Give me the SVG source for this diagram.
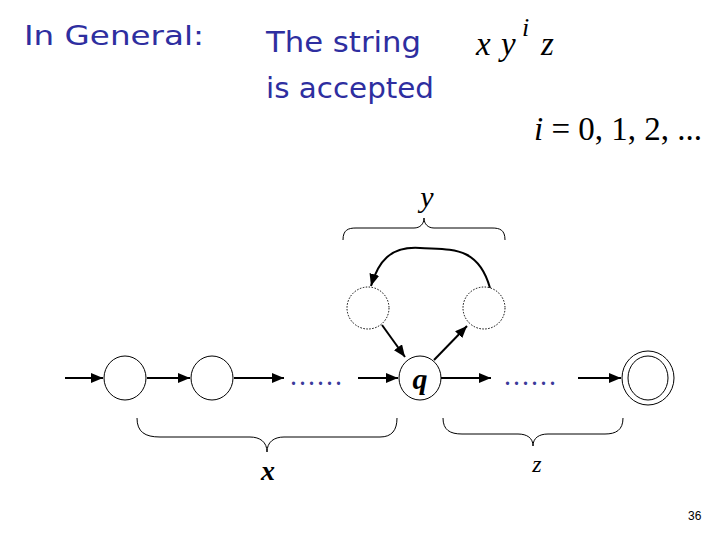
<svg xmlns="http://www.w3.org/2000/svg" width="720" height="540" viewBox="0 0 720 540">
<defs>
<marker id="ah" viewBox="0 0 12 10" refX="12" refY="5" markerWidth="12" markerHeight="10" markerUnits="userSpaceOnUse" orient="auto"><path d="M0,0 L12,5 L0,10 z" fill="#000"/></marker>
<style>
.st{fill:#fff;stroke:#000;stroke-width:1}
.dot{fill:#fff;stroke:#000;stroke-width:1;stroke-dasharray:1.5 1.5}
.ed{fill:none;stroke:#000;stroke-width:2;marker-end:url(#ah)}
.br{fill:none;stroke:#000;stroke-width:1}
.hd{font-family:"DejaVu Sans",sans-serif;fill:#2e2ea0}
.m{font-family:"Liberation Serif",serif;fill:#000}
.dots{font-family:"Liberation Serif",serif;fill:#3a3a9a;font-size:20px;font-weight:bold}
</style>
</defs>
<rect width="720" height="540" fill="#fff"/>
<text class="hd" x="24" y="45" font-size="27" textLength="180" lengthAdjust="spacingAndGlyphs">In General:</text>
<text class="hd" x="266" y="52" font-size="29" textLength="155" lengthAdjust="spacingAndGlyphs">The string</text>
<text class="hd" x="266" y="98" font-size="29" textLength="168" lengthAdjust="spacingAndGlyphs">is accepted</text>
<g class="m" font-size="33" font-style="italic">
<text x="476" y="55">x</text>
<text x="501" y="55">y</text>
<text x="522" y="36" font-size="26">i</text>
<text x="541" y="55">z</text>
</g>
<text class="m" x="534" y="140" font-size="34" textLength="168" lengthAdjust="spacingAndGlyphs"><tspan font-style="italic">i</tspan> = 0, 1, 2, ...</text>
<text x="688" y="520" font-family="Liberation Sans,sans-serif" font-size="12" fill="#000">36</text>

<g id="connectors">
<line class="ed" x1="65" y1="378" x2="103" y2="378"/>
<line class="ed" x1="147" y1="378" x2="190" y2="378"/>
<line class="ed" x1="234" y1="378" x2="284" y2="378"/>
<line class="ed" x1="358" y1="378" x2="398" y2="378"/>
<line class="ed" x1="441" y1="378" x2="491" y2="378"/>
<line class="ed" x1="578" y1="378" x2="621" y2="378"/>
<line class="ed" x1="382" y1="325" x2="405" y2="357"/>
<line class="ed" x1="434" y1="360" x2="467" y2="326"/>
<path class="ed" d="M490,288 C478,245 450,250 420,248 C390,246 378,262 371,286"/>
</g>

<g id="dots1"><text class="dots" x="291" y="385" letter-spacing="4">......</text></g>
<g id="dots2"><text class="dots" x="505" y="385" letter-spacing="4">......</text></g>

<g id="s1"><ellipse class="st" cx="125" cy="378" rx="21" ry="22"/></g>
<g id="s2"><ellipse class="st" cx="212" cy="378" rx="21" ry="22"/></g>
<g id="q"><ellipse class="st" cx="420" cy="378" rx="21" ry="22"/><text class="m" x="420" y="389" font-size="30" font-style="italic" font-weight="bold" text-anchor="middle">q</text></g>
<g id="final"><ellipse class="st" cx="648" cy="378" rx="26" ry="27"/><ellipse class="st" cx="648" cy="378" rx="20" ry="22"/></g>
<g id="u1"><ellipse class="dot" cx="368" cy="308" rx="21" ry="21"/></g>
<g id="u2"><ellipse class="dot" cx="484" cy="308" rx="21" ry="21"/></g>

<g id="braceY">
<path class="br" d="M343,240 C343,230 348,228 356,228 L414,228 C420,228 424,224 424,218 C424,224 428,228 434,228 L492,228 C500,228 505,230 505,240"/>
<text class="m" x="427" y="207" font-size="30" font-style="italic" text-anchor="middle">y</text>
</g>
<g id="braceX">
<path class="br" d="M137,418 C137,432 145,437 160,437 L250,437 C260,437 267,442 267,452 C267,442 274,437 284,437 L380,437 C392,437 397,430 397,418"/>
<text class="m" x="268" y="480" font-size="28" font-style="italic" font-weight="bold" text-anchor="middle">x</text>
</g>
<g id="braceZ">
<path class="br" d="M443,418 C443,430 450,434 462,434 L518,434 C527,434 533,438 533,446 C533,438 539,434 548,434 L605,434 C616,434 623,430 623,418"/>
<text class="m" x="537" y="472" font-size="24" font-style="italic" text-anchor="middle">z</text>
</g>
</svg>
